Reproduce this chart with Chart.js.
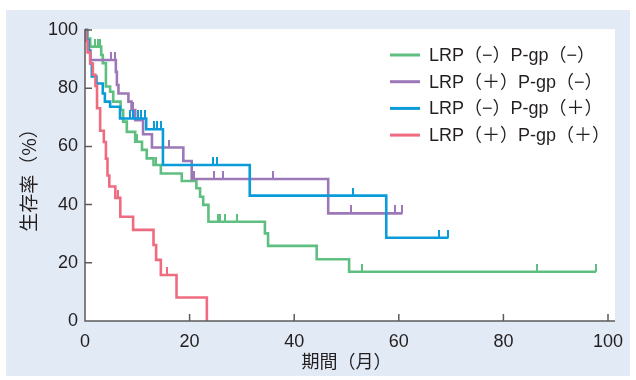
<!DOCTYPE html>
<html>
<head>
<meta charset="utf-8">
<script src="https://cdn.jsdelivr.net/npm/chart.js@4"></script>
<style>
  html, body { margin: 0; padding: 0; background: #fff; }
  #wrap { width: 636px; height: 380px; }
</style>
</head>
<body>
<div id="wrap"><canvas id="kmChart" width="636" height="380"></canvas></div>
<script>
// 群ごとの生存曲線 (時間[月], 生存率[%])
const groupLabels = ['LRP（−）P-gp（−）', 'LRP（＋）P-gp（−）', 'LRP（−）P-gp（＋）', 'LRP（＋）P-gp（＋）'];
const groupColors = ['#5fbf80', '#9d78b8', '#0a9bd9', '#ef6b80'];

const greenTimes = [0, 0.5, 1.0, 3.1, 3.4, 4.0, 4.8, 5.4, 6.8, 7.3, 8.0, 9.6, 10.9, 11.8, 13.1, 14.5, 18.5, 21.3, 22.0, 22.6, 23.6, 34.4, 35.0, 44.3, 50.5, 97.7];
const greenSurv  = [100, 97.1, 94.3, 91.4, 88.6, 80.6, 78.8, 75.4, 72.5, 68.5, 65.0, 61.6, 58.8, 55.9, 53.6, 50.7, 48.1, 45.6, 42.7, 39.9, 34.1, 30.1, 25.8, 21.2, 16.9, 16.9];
const greenCensorTimes = [1.9, 2.5, 2.9, 9.9, 13.6, 25.5, 25.9, 26.8, 29.0, 53.0, 86.5, 97.7];
const greenCensorSurv  = [94.3, 94.3, 94.3, 61.6, 53.6, 34.1, 34.1, 34.1, 34.1, 16.9, 16.9, 16.9];

const purpleTimes = [0, 0.3, 0.6, 1.0, 5.9, 6.1, 6.4, 8.3, 8.9, 9.6, 11.1, 12.8, 18.8, 20.4, 46.5, 60.7];
const purpleSurv  = [100, 96.6, 93.1, 89.7, 85.6, 81.1, 78.2, 75.4, 72.5, 69.0, 64.2, 59.6, 55.0, 48.8, 37.0, 37.0];
const purpleCensorTimes = [5.0, 5.7, 9.1, 16.1, 20.8, 24.6, 26.3, 35.9, 50.9, 59.2, 60.7];
const purpleCensorSurv  = [89.7, 89.7, 72.5, 59.6, 48.8, 48.8, 48.8, 48.8, 37.0, 37.0, 37.0];

const blueTimes = [0, 0.3, 0.7, 1.0, 1.3, 2.2, 3.4, 3.8, 4.8, 6.7, 11.7, 14.9, 31.5, 57.6, 69.5];
const blueSurv  = [100, 96.5, 92.8, 88.5, 84.0, 81.6, 78.2, 75.4, 73.6, 69.6, 65.9, 53.6, 43.1, 28.6, 28.6];
const blueCensorTimes = [8.6, 9.2, 10.2, 10.8, 11.5, 13.1, 13.7, 14.5, 24.5, 25.3, 51.3, 67.7, 69.5];
const blueCensorSurv  = [69.6, 69.6, 69.6, 69.6, 69.6, 65.9, 65.9, 65.9, 53.6, 53.6, 43.1, 28.6, 28.6];

const redTimes = [0, 0.2, 0.5, 1.0, 1.5, 2.0, 2.3, 2.9, 3.6, 4.0, 4.3, 4.65, 5.8, 6.75, 9.2, 13.1, 13.6, 14.5, 17.5, 23.3];
const redSurv  = [100, 96.2, 92.3, 88.5, 84.6, 80.8, 73.1, 65.4, 61.5, 55.8, 50.0, 46.2, 42.3, 35.8, 31.3, 26.1, 21.0, 15.8, 8.1, 0];
const redCensorTimes = [6.3, 15.6];
const redCensorSurv  = [42.3, 15.8];

const xTicks = [0, 20, 40, 60, 80, 100];
const yTicks = [0, 20, 40, 60, 80, 100];

const tickFont = "'Liberation Sans', Arial, sans-serif";
const cjkFont = "'Noto Sans CJK JP', 'Liberation Sans', sans-serif";
const legendFont = "'Liberation Sans', 'Noto Sans CJK JP', sans-serif";

function toPoints(xs, ys) {
    return xs.map((x, i) => ({ x: x, y: ys[i] }));
}

// 打ち切りマーク: 線から上へ伸びる短い縦線
function censorMark(color) {
    const c = document.createElement('canvas');
    c.width = 2;
    c.height = 16;
    const g = c.getContext('2d');
    g.fillStyle = color;
    g.fillRect(0, 0, 2, 8);
    return c;
}

const curves = [
    [greenTimes, greenSurv, greenCensorTimes, greenCensorSurv],
    [purpleTimes, purpleSurv, purpleCensorTimes, purpleCensorSurv],
    [blueTimes, blueSurv, blueCensorTimes, blueCensorSurv],
    [redTimes, redSurv, redCensorTimes, redCensorSurv]
];

const datasets = [];
curves.forEach((c, i) => {
    datasets.push({
        type: 'line',
        label: groupLabels[i],
        data: toPoints(c[0], c[1]),
        borderColor: groupColors[i],
        backgroundColor: groupColors[i],
        borderWidth: 2.6,
        stepped: true,
        pointRadius: 0,
        fill: false,
        clip: 6,
        order: 4 - i
    });
});
curves.forEach((c, i) => {
    datasets.push({
        type: 'scatter',
        label: '',
        censor: true,
        data: toPoints(c[2], c[3]),
        pointStyle: censorMark(groupColors[i]),
        pointRadius: 4,
        clip: 10,
        order: 4 - i
    });
});

const framePlugin = {
    id: 'frame',
    beforeDraw(chart) {
        const ctx = chart.ctx;
        const a = chart.chartArea;
        ctx.save();
        ctx.fillStyle = '#ffffff';
        ctx.fillRect(0, 0, chart.width, chart.height);
        ctx.fillStyle = '#e2eaf5';
        ctx.fillRect(6, 10, 624, 366);
        ctx.fillStyle = '#ffffff';
        ctx.fillRect(a.left, a.top - 1, a.right - a.left + 7, a.bottom - a.top + 1);
        ctx.restore();
    },
    afterDraw(chart) {
        const ctx = chart.ctx;
        const a = chart.chartArea;
        const xs = chart.scales.x;
        const ys = chart.scales.y;
        ctx.save();
        ctx.strokeStyle = '#5b5b5b';
        ctx.lineWidth = 1.5;
        ctx.beginPath();
        ctx.moveTo(a.left, a.top - 1);
        ctx.lineTo(a.left, a.bottom);
        ctx.lineTo(a.right + 7, a.bottom);
        // 内向きの目盛り
        xTicks.forEach(v => {
            const px = xs.getPixelForValue(v);
            ctx.moveTo(px, a.bottom);
            ctx.lineTo(px, a.bottom - 7);
        });
        yTicks.forEach(v => {
            const py = ys.getPixelForValue(v);
            ctx.moveTo(a.left, py);
            ctx.lineTo(a.left + 7, py);
        });
        ctx.stroke();

        // 凡例
        ctx.font = '18px ' + legendFont;
        ctx.textBaseline = 'middle';
        ctx.textAlign = 'left';
        for (let i = 0; i < 4; i++) {
            const ds = chart.data.datasets[i];
            const y = a.top + 25 + i * 26.7;
            ctx.strokeStyle = ds.borderColor;
            ctx.lineWidth = 3;
            ctx.beginPath();
            ctx.moveTo(a.right - 218, y);
            ctx.lineTo(a.right - 188, y);
            ctx.stroke();
            ctx.fillStyle = '#231f20';
            ctx.fillText(ds.label, a.right - 179, y + 1);
        }
        ctx.restore();
    }
};

new Chart(document.getElementById('kmChart'), {
    data: { datasets: datasets },
    options: {
        responsive: false,
        animation: false,
        devicePixelRatio: 1,
        layout: { padding: { left: 0, right: 28, top: 30, bottom: 0 } },
        plugins: {
            legend: { display: false },
            tooltip: { enabled: false }
        },
        scales: {
            x: {
                type: 'linear',
                min: 0,
                max: 100,
                afterFit: s => { s.height = 59; },
                afterBuildTicks: s => { s.ticks = xTicks.map(v => ({ value: v })); },
                grid: { display: false, drawTicks: false },
                border: { display: false },
                ticks: { padding: 10, color: '#231f20', font: { family: tickFont, size: 18 } },
                title: {
                    display: true,
                    text: '期間（月）',
                    color: '#231f20',
                    padding: { top: 0, bottom: 8 },
                    font: { family: cjkFont, size: 18 }
                }
            },
            y: {
                type: 'linear',
                min: 0,
                max: 100,
                afterFit: s => { s.width = 85; },
                afterBuildTicks: s => { s.ticks = yTicks.map(v => ({ value: v })); },
                grid: { display: false, drawTicks: false },
                border: { display: false },
                ticks: { padding: 7, color: '#231f20', font: { family: tickFont, size: 18 } },
                title: {
                    display: true,
                    text: '生存率（%）',
                    color: '#231f20',
                    padding: { top: 17, bottom: 0 },
                    font: { family: cjkFont, size: 19 }
                }
            }
        }
    },
    plugins: [framePlugin]
});
</script>
</body>
</html>
